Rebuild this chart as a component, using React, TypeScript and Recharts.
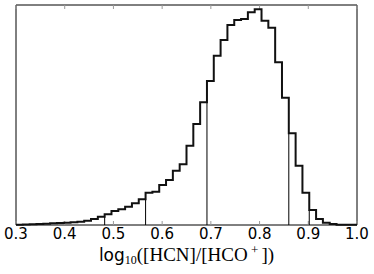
import React from 'react'
import { ComposedChart, Line, XAxis, YAxis, ReferenceLine, ReferenceArea } from 'recharts'

// bin edges: 50 bins of width 0.014 from 0.3 to 1.0
const binStart = 0.3
const binWidth = 0.014
const binCounts = [
  1, 1.5, 2, 3, 4, 5, 6, 7, 8, 10,
  13, 18, 25, 32, 42, 47, 55, 65, 77, 97,
  100, 120, 135, 163, 182, 238, 303, 368, 432, 508,
  555, 600, 615, 618, 638, 647, 613, 592, 488, 382,
  275, 178, 97, 45, 18, 7, 3, 1, 0.5, 0.5,
]
// vertical markers sit on these bin edges
const markerEdges = [13, 19, 28, 40, 43]
const xTicks = [0.3, 0.4, 0.5, 0.6, 0.7, 0.8, 0.9, 1.0]
const yMax = 660

const stepData = [
  ...binCounts.map((c, i) => ({ x: +(binStart + i * binWidth).toFixed(4), y: c })),
  { x: 1.0, y: binCounts[binCounts.length - 1] },
]

const AxisTitle = (props: any) => {
  const vb = props.viewBox
  const cx = vb.x + vb.width / 2
  return (
    <text x={cx} y={261} textAnchor="middle" fill="#000">
      <tspan fontFamily="DejaVu Sans" fontSize={17}>log</tspan>
      <tspan fontFamily="Liberation Serif" fontSize={12} dy={3}>10</tspan>
      <tspan fontFamily="Liberation Serif" fontSize={19} dy={-3}>([HCN]/[HCO</tspan>
      <tspan fontFamily="Liberation Serif" fontSize={13} dy={-7}> + </tspan>
      <tspan fontFamily="Liberation Serif" fontSize={19} dy={7}>])</tspan>
    </text>
  )
}

export default function App() {
  return (
    <div style={{ position: 'absolute', left: 0, top: 0, background: '#fff' }}>
      <ComposedChart
        width={374}
        height={274}
        data={stepData}
        margin={{ top: 5, right: 17, left: 16, bottom: 0 }}
      >
        <XAxis
          dataKey="x"
          type="number"
          domain={[0.3, 1.0]}
          ticks={xTicks}
          tickFormatter={(v) => v.toFixed(1)}
          allowDataOverflow
          height={49}
          tickLine={false}
          tickSize={0}
          tickMargin={3}
          axisLine={false}
          tick={{ fill: '#000', fontSize: 15, fontFamily: 'DejaVu Sans' }}
          label={<AxisTitle />}
        />
        <YAxis domain={[0, yMax]} hide />
        <ReferenceArea
          x1={0.3}
          x2={1.0}
          y1={0}
          y2={yMax}
          fill="none"
          stroke="#000"
          strokeWidth={1}
          fillOpacity={0}
          ifOverflow="visible"
        />
        {xTicks.map((t) => (
          <ReferenceLine
            key={'b' + t}
            segment={[{ x: t, y: 0 }, { x: t, y: 12 }]}
            stroke="#999"
            strokeWidth={1}
            ifOverflow="visible"
          />
        ))}
        {xTicks.map((t) => (
          <ReferenceLine
            key={'t' + t}
            segment={[{ x: t, y: yMax }, { x: t, y: yMax - 12 }]}
            stroke="#999"
            strokeWidth={1}
            ifOverflow="visible"
          />
        ))}
        {markerEdges.map((e) => (
          <ReferenceLine
            key={'m' + e}
            segment={[
              { x: binStart + e * binWidth, y: 0 },
              { x: binStart + e * binWidth, y: Math.min(binCounts[e - 1], binCounts[e]) },
            ]}
            stroke="#000"
            strokeWidth={1}
          />
        ))}
        <Line
          type="stepAfter"
          dataKey="y"
          stroke="#111"
          strokeWidth={2}
          dot={false}
          activeDot={false}
          isAnimationActive={false}
        />
      </ComposedChart>
    </div>
  )
}
